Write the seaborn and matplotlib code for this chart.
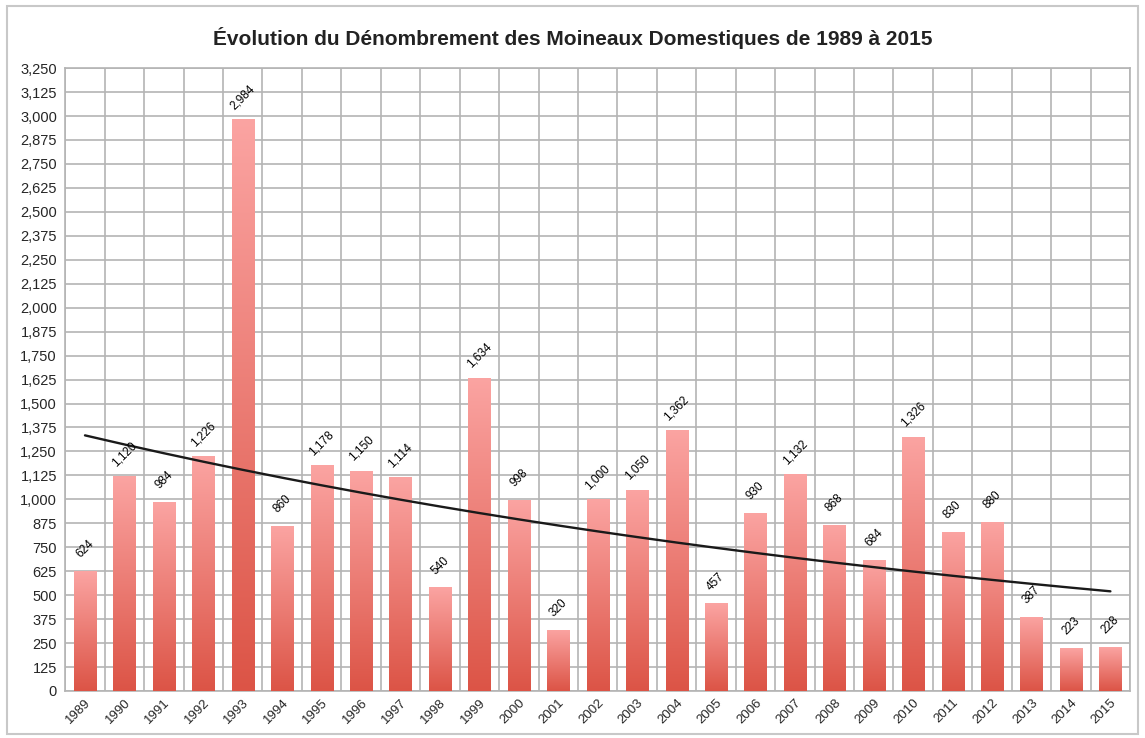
import numpy as np
import pandas as pd
import matplotlib
matplotlib.use("Agg")
import matplotlib.pyplot as plt
import seaborn as sns
from matplotlib.colors import LinearSegmentedColormap
from matplotlib.ticker import MultipleLocator, FuncFormatter
from matplotlib.patches import Rectangle

years = [str(y) for y in range(1989, 2016)]
values = [624, 1120, 984, 1226, 2984, 860, 1178, 1150, 1114, 540, 1634, 998, 320,
          1000, 1050, 1362, 457, 930, 1132, 868, 684, 1326, 830, 880, 387, 223, 228]
title = "Évolution du Dénombrement des Moineaux Domestiques de 1989 à 2015"

df = pd.DataFrame({"annee": years, "nombre": values})

sns.set_theme(style="white")
plt.rcParams['font.family'] = ['Liberation Sans', 'DejaVu Sans']

fig = plt.figure(figsize=(11.45, 7.38), dpi=100)
ax = fig.add_axes([0.057, 0.0637, 0.930, 0.844])

sns.barplot(data=df, x="annee", y="nombre", color="#e8605a", width=0.56,
            ax=ax, zorder=3, saturation=1)

cmap = LinearSegmentedColormap.from_list("g", ["#dc5446", "#fba4a2"])
grad = np.linspace(0, 1, 256).reshape(-1, 1)
for p in ax.patches:
    x0, y0 = p.get_x(), p.get_y()
    w, h = p.get_width(), p.get_height()
    p.set_facecolor("none")
    p.set_edgecolor("none")
    im = ax.imshow(grad, cmap=cmap, extent=[x0, x0 + w, y0, y0 + h],
                   origin="lower", aspect="auto", zorder=3, interpolation="bilinear")
    im.set_clip_path(p)

# exponential trend line
xs = np.arange(len(values))
coef = np.polyfit(xs, np.log(values), 1)
trend = np.exp(np.polyval(coef, xs))
ax.plot(xs, trend, color="#1a1a1a", lw=1.7, zorder=5)

# labels
for i, v in enumerate(values):
    ax.text(i, v + 115, f"{v:,}", rotation=45, ha="center", va="center",
            fontsize=8.5, color="black", zorder=6, rotation_mode="anchor")

ax.set_xlim(-0.5, len(values) - 0.5)
ax.set_ylim(0, 3250)
ax.yaxis.set_major_locator(MultipleLocator(125))
ax.yaxis.set_major_formatter(FuncFormatter(lambda v, p: f"{int(v):,}"))
ax.set_xticks(np.arange(len(values) + 1) - 0.5, minor=True)
ax.grid(True, which="minor", axis="x", color="#b4b4b4", lw=1.2, zorder=0)
ax.grid(True, which="major", axis="y", color="#b4b4b4", lw=1.2, zorder=0)
ax.set_axisbelow(True)
ax.tick_params(axis="x", which="major", length=0, pad=4)
ax.tick_params(axis="x", which="minor", length=0)
ax.tick_params(axis="y", length=0, pad=6, labelsize=10.5)
plt.setp(ax.get_xticklabels(), rotation=45, ha="right", rotation_mode="anchor",
         fontsize=9.5)
ax.set_xlabel("")
ax.set_ylabel("")
for s in ax.spines.values():
    s.set_color("#b4b4b4")
    s.set_linewidth(1.2)

fig.text(0.5, 0.948, title, ha="center", va="center", fontsize=15,
         fontweight="bold", color="#222222")

fig.patches.append(Rectangle((0.006, 0.006), 0.988, 0.986, transform=fig.transFigure,
                             fill=False, edgecolor="#c8c8c8", lw=1.5))

fig.savefig("out.png", dpi=100, facecolor="white")
